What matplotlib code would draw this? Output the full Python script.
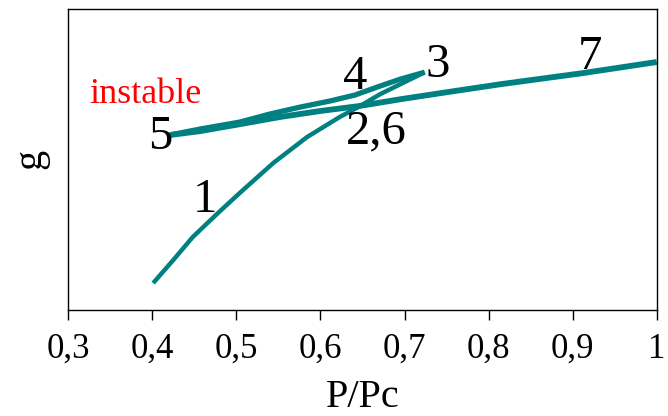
import matplotlib
matplotlib.use("Agg")
import matplotlib.pyplot as plt

# branche 1 -> 3 (courbe basse)
x_up = [0.401, 0.425, 0.448, 0.478, 0.504, 0.544, 0.584, 0.623, 0.645, 0.671, 0.695, 0.724]
g_up = [0.088, 0.165, 0.241, 0.321, 0.388, 0.488, 0.574, 0.641, 0.674, 0.717, 0.750, 0.790]
# branche 3 -> 5 (instable)
x_back = [0.724, 0.695, 0.671, 0.641, 0.611, 0.576, 0.540, 0.504, 0.457, 0.421]
g_back = [0.790, 0.767, 0.744, 0.714, 0.694, 0.674, 0.651, 0.624, 0.601, 0.581]
# branche 5 -> 7
x_top = [0.421, 0.457, 0.504, 0.552, 0.600, 0.645, 0.695, 0.742, 0.814, 0.912, 1.0]
g_top = [0.581, 0.594, 0.617, 0.641, 0.661, 0.677, 0.700, 0.720, 0.750, 0.787, 0.824]

labels = ["1", "2,6", "3", "4", "5", "7"]
lab_x = [0.463, 0.667, 0.740, 0.641, 0.409, 0.920]
lab_y = [0.382, 0.610, 0.832, 0.790, 0.592, 0.857]

xticks = [0.3, 0.4, 0.5, 0.6, 0.7, 0.8, 0.9, 1.0]
xtick_labels = ["0,3", "0,4", "0,5", "0,6", "0,7", "0,8", "0,9", "1"]

teal = "#008080"
plt.rcParams['font.family'] = ['Liberation Serif', 'DejaVu Serif']

fig = plt.figure(figsize=(6.68, 4.16), dpi=100)
ax = fig.add_axes([0.1022, 0.256, 0.8809, 0.722])

ax.plot(x_up, g_up, color=teal, lw=3.2, solid_capstyle='butt')
ax.plot(x_back, g_back, color=teal, lw=3.8, solid_capstyle='butt')
ax.plot(x_top, g_top, color=teal, lw=4.2, solid_capstyle='butt')

for t, xx, yy in zip(labels, lab_x, lab_y):
    ax.text(xx, yy, t, fontsize=35, ha='center', va='center_baseline')
ax.text(0.392, 0.73, "instable", color='red', fontsize=26, ha='center', va='center_baseline')

ax.set_xlim(0.3, 1.0)
ax.set_ylim(0, 1)
ax.set_xticks(xticks)
ax.set_xticklabels(xtick_labels, fontsize=25)
ax.set_yticks([])
ax.tick_params(axis='x', direction='out', length=7, width=1, pad=10)
for s in ax.spines.values():
    s.set_linewidth(1)
ax.set_xlabel("P/Pc", fontsize=29, labelpad=9)
ax.set_ylabel("g", fontsize=29, labelpad=14)

fig.savefig("out.png", dpi=100)
